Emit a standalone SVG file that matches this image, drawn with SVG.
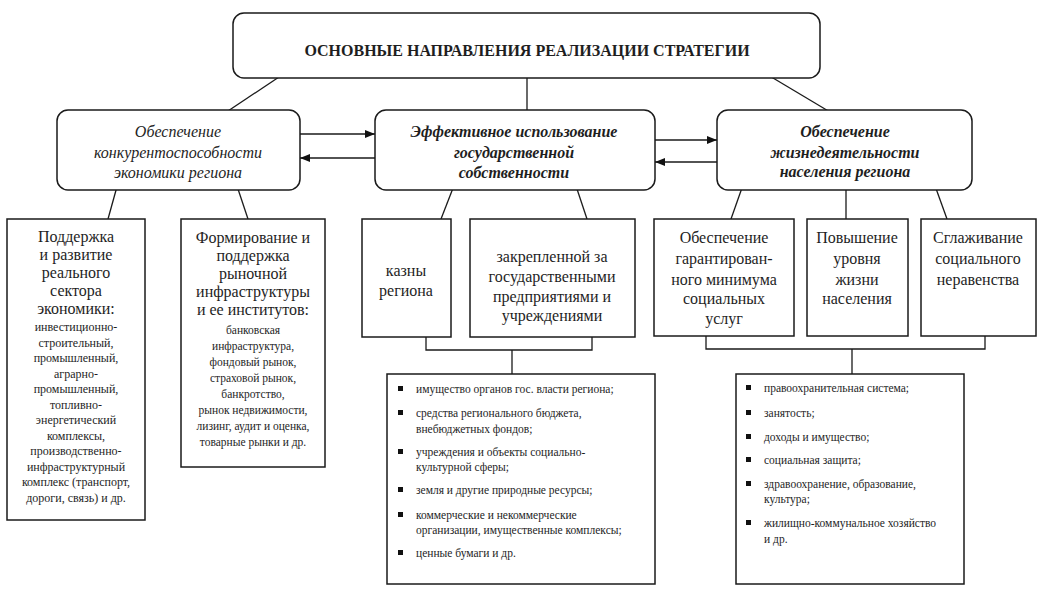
<svg xmlns="http://www.w3.org/2000/svg" width="1051" height="606" viewBox="0 0 1051 606" font-family="Liberation Serif, Times New Roman, Tinos, serif">
<style>
.box{fill:#fff;stroke:#1a1a1a;stroke-width:1.5}
.ln{stroke:#1a1a1a;stroke-width:1.3;fill:none}
text{font-family:'Liberation Serif','Times New Roman',Tinos,serif;fill:#1e1e1e;text-anchor:middle}
.t{font-size:16px;font-weight:bold}
.i{font-size:16px;font-style:italic}
.bi{font-size:16px;font-style:italic;font-weight:bold}
.b{font-size:16px}
.s{font-size:12px}
.s2{font-size:11.5px}
.l{font-size:11.5px;text-anchor:start}
.bul{fill:#111}
</style>
<defs>
<marker id="ah" markerWidth="10" markerHeight="8" refX="10" refY="4" orient="auto" markerUnits="userSpaceOnUse">
<path d="M0,0 L10,4 L0,8 z" fill="#111"/>
</marker>
</defs>
<rect width="1051" height="606" fill="#fff"/>

<g id="connectors">
<line class="ln" x1="282" y1="75" x2="225" y2="113"/>
<line class="ln" x1="527" y1="75" x2="527" y2="113"/>
<line class="ln" x1="768" y1="75" x2="830" y2="112"/>
<line class="ln" x1="300" y1="134" x2="375" y2="134" marker-end="url(#ah)"/>
<line class="ln" x1="375" y1="158" x2="300" y2="158" marker-end="url(#ah)"/>
<line class="ln" x1="655" y1="140" x2="717" y2="140" marker-end="url(#ah)"/>
<line class="ln" x1="717" y1="162" x2="655" y2="162" marker-end="url(#ah)"/>
<line class="ln" x1="118" y1="183" x2="108" y2="219"/>
<line class="ln" x1="236" y1="183" x2="248" y2="219"/>
<line class="ln" x1="455" y1="183" x2="441" y2="219"/>
<line class="ln" x1="575" y1="183" x2="587" y2="219"/>
<line class="ln" x1="743" y1="185" x2="731" y2="219"/>
<line class="ln" x1="846" y1="185" x2="846" y2="219"/>
<line class="ln" x1="934" y1="183" x2="947" y2="219"/>
<polyline class="ln" points="426,325 426,350 592,350 592,325"/>
<line class="ln" x1="512" y1="350" x2="512" y2="374"/>
<polyline class="ln" points="706,328 706,349 985,349 985,325"/>
<line class="ln" x1="852" y1="349" x2="852" y2="374"/>
</g>

<g id="top">
<rect class="box" x="233" y="13" width="587" height="65" rx="11"/>
<text class="t" x="527" y="56">ОСНОВНЫЕ НАПРАВЛЕНИЯ РЕАЛИЗАЦИИ СТРАТЕГИИ</text>
</g>

<g id="competitiveness">
<rect class="box" x="57" y="110" width="243" height="80" rx="11"/>
<text class="i" x="178" y="137">Обеспечение</text>
<text class="i" x="178" y="158">конкурентоспособности</text>
<text class="i" x="178" y="178">экономики региона</text>
</g>

<g id="property">
<rect class="box" x="375" y="110" width="280" height="80" rx="11"/>
<text class="bi" x="514" y="137">Эффективное использование</text>
<text class="bi" x="514" y="158">государственной</text>
<text class="bi" x="514" y="178">собственности</text>
</g>

<g id="life">
<rect class="box" x="717" y="110" width="255" height="80" rx="11"/>
<text class="bi" x="845" y="137">Обеспечение</text>
<text class="bi" x="845" y="158">жизнедеятельности</text>
<text class="bi" x="845" y="177">населения региона</text>
</g>

<g id="real-sector">
<rect class="box" x="7" y="219" width="138" height="301"/>
<text class="b" x="76" y="242">Поддержка</text>
<text class="b" x="76" y="260">и развитие</text>
<text class="b" x="76" y="278">реального</text>
<text class="b" x="76" y="296">сектора</text>
<text class="b" x="76" y="314">экономики:</text>
<text class="s" x="76" y="331">инвестиционно-</text>
<text class="s" x="76" y="346.5">строительный,</text>
<text class="s" x="76" y="362">промышленный,</text>
<text class="s" x="76" y="377.5">аграрно-</text>
<text class="s" x="76" y="393">промышленный,</text>
<text class="s" x="76" y="408.5">топливно-</text>
<text class="s" x="76" y="424">энергетический</text>
<text class="s" x="76" y="439.5">комплексы,</text>
<text class="s" x="76" y="455">производственно-</text>
<text class="s" x="76" y="470.5">инфраструктурный</text>
<text class="s" x="76" y="486">комплекс (транспорт,</text>
<text class="s" x="76" y="501.5">дороги, связь) и др.</text>
</g>

<g id="market">
<rect class="box" x="181" y="219" width="144" height="248"/>
<text class="b" x="253" y="243">Формирование и</text>
<text class="b" x="253" y="261">поддержка</text>
<text class="b" x="253" y="279">рыночной</text>
<text class="b" x="253" y="297">инфраструктуры</text>
<text class="b" x="253" y="315">и ее институтов:</text>
<text class="s2" x="253" y="334">банковская</text>
<text class="s2" x="253" y="350">инфраструктура,</text>
<text class="s2" x="253" y="366">фондовый рынок,</text>
<text class="s2" x="253" y="382">страховой рынок,</text>
<text class="s2" x="253" y="398">банкротство,</text>
<text class="s2" x="253" y="414">рынок недвижимости,</text>
<text class="s2" x="253" y="430">лизинг, аудит и оценка,</text>
<text class="s2" x="253" y="446">товарные рынки и др.</text>
</g>

<g id="treasury">
<rect class="box" x="362" y="219" width="89" height="118"/>
<text class="b" x="406" y="276">казны</text>
<text class="b" x="406" y="296">региона</text>
</g>

<g id="enterprises">
<rect class="box" x="470" y="219" width="165" height="118"/>
<text class="b" x="552" y="262">закрепленной за</text>
<text class="b" x="552" y="282">государственными</text>
<text class="b" x="552" y="302">предприятиями и</text>
<text class="b" x="552" y="321">учреждениями</text>
</g>

<g id="guaranteed">
<rect class="box" x="654" y="219" width="140" height="117"/>
<text class="b" x="724" y="243">Обеспечение</text>
<text class="b" x="724" y="264">гарантирован-</text>
<text class="b" x="724" y="285">ного минимума</text>
<text class="b" x="724" y="304">социальных</text>
<text class="b" x="724" y="324">услуг</text>
</g>

<g id="living">
<rect class="box" x="807" y="219" width="101" height="117"/>
<text class="b" x="857" y="243">Повышение</text>
<text class="b" x="857" y="264">уровня</text>
<text class="b" x="857" y="285">жизни</text>
<text class="b" x="857" y="304">населения</text>
</g>

<g id="inequality">
<rect class="box" x="921" y="219" width="115" height="117"/>
<text class="b" x="978" y="243">Сглаживание</text>
<text class="b" x="978" y="264">социального</text>
<text class="b" x="978" y="285">неравенства</text>
</g>

<g id="property-list">
<rect class="box" x="387" y="374" width="268" height="210"/>
<rect class="bul" x="398" y="386" width="5" height="5"/>
<text class="l" x="416" y="393">имущество органов гос. власти  региона;</text>
<rect class="bul" x="398" y="410" width="5" height="5"/>
<text class="l" x="416" y="417">средства регионального бюджета,</text>
<text class="l" x="416" y="433">внебюджетных фондов;</text>
<rect class="bul" x="398" y="449" width="5" height="5"/>
<text class="l" x="416" y="456">учреждения и объекты социально-</text>
<text class="l" x="416" y="471">культурной сферы;</text>
<rect class="bul" x="398" y="487" width="5" height="5"/>
<text class="l" x="416" y="494">земля и другие природные ресурсы;</text>
<rect class="bul" x="398" y="512" width="5" height="5"/>
<text class="l" x="416" y="519">коммерческие и некоммерческие</text>
<text class="l" x="416" y="534">организации,  имущественные комплексы;</text>
<rect class="bul" x="398" y="550" width="5" height="5"/>
<text class="l" x="416" y="557">ценные бумаги и др.</text>
</g>

<g id="life-list">
<rect class="box" x="736" y="374" width="228" height="210"/>
<rect class="bul" x="746" y="385" width="5" height="5"/>
<text class="l" x="764" y="392">правоохранительная система;</text>
<rect class="bul" x="746" y="410" width="5" height="5"/>
<text class="l" x="764" y="417">занятость;</text>
<rect class="bul" x="746" y="434" width="5" height="5"/>
<text class="l" x="764" y="441">доходы и имущество;</text>
<rect class="bul" x="746" y="457" width="5" height="5"/>
<text class="l" x="764" y="464">социальная защита;</text>
<rect class="bul" x="746" y="481" width="5" height="5"/>
<text class="l" x="764" y="488">здравоохранение, образование,</text>
<text class="l" x="764" y="503">культура;</text>
<rect class="bul" x="746" y="520" width="5" height="5"/>
<text class="l" x="764" y="527">жилищно-коммунальное хозяйство</text>
<text class="l" x="764" y="543">и др.</text>
</g>
</svg>
